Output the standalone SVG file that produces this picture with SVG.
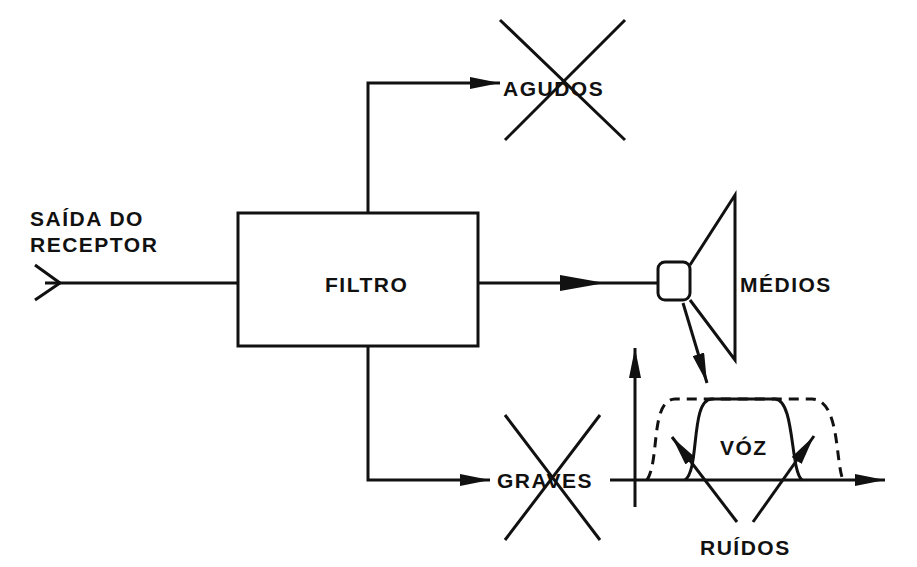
<svg xmlns="http://www.w3.org/2000/svg" width="917" height="567" viewBox="0 0 917 567">
<style>
.l{stroke:#111;stroke-width:3;fill:none}
.t{font-family:"Liberation Sans",Arial,sans-serif;font-weight:bold;font-size:21px;letter-spacing:1.5px;fill:#111}
</style>
<defs>
<marker id="b" viewBox="0 0 30 12" refX="30" refY="6" markerWidth="30" markerHeight="12" markerUnits="userSpaceOnUse" orient="auto"><path d="M0,0L30,6L0,12z" fill="#111"/></marker></defs>
<rect width="917" height="567" fill="#fff"/>
<g id="input"><path class="l" d="M35,265L60,283L35,300"/><text class="t" x="30" y="226">SAÍDA DO</text><text class="t" x="30" y="252">RECEPTOR</text></g>
<g id="filtro"><rect class="l" x="238" y="213" width="240" height="133"/><text class="t" x="325" y="292">FILTRO</text></g>
<g id="agudos"><text class="t" x="503" y="96">AGUDOS</text><path class="l" d="M500,20L625,140M625,20L505,140" stroke-width="2"/></g>
<g id="graves"><text class="t" x="497" y="488">GRAVES</text><path class="l" d="M505,415L600,540M600,415L505,540" stroke-width="2"/></g>
<g id="medios"><rect class="l" x="658" y="262" width="32" height="38" rx="7"/><path class="l" d="M690,265L735,195L735,360L690,300"/><text class="t" x="740" y="292">MÉDIOS</text></g>
<g id="grafico">
<path class="l" d="M635,507L635,348" marker-end="url(#b)"/>
<path class="l" d="M610,480L885,480" marker-end="url(#b)"/>
<path class="l" stroke-dasharray="10,7" d="M647,480C660,460 650,400 675,399L812,399C840,400 835,460 843,480"/>
<path class="l" d="M685,480C700,470 690,399 712,399L775,399C795,400 790,470 802,480"/>
<text class="t" x="720" y="455">VÓZ</text>
<path class="l" d="M737,522L672,437" stroke-width="2.5" marker-end="url(#b)"/>
<path class="l" d="M753,522L814,436" stroke-width="2.5" marker-end="url(#b)"/>
<text class="t" x="700" y="555">RUÍDOS</text>
</g>
<g id="connectors">
<path class="l" d="M45,283L238,283"/>
<path class="l" d="M478,283L658,283"/>
<path d="M560,275L605,283L560,291z" fill="#111"/>
<path class="l" d="M368,213L368,83L500,83" marker-end="url(#b)"/>
<path class="l" d="M368,346L368,480L490,480" marker-end="url(#b)"/>
<path class="l" d="M683,303L707,383" stroke-width="2.5" marker-end="url(#b)"/>
</g>
</svg>
